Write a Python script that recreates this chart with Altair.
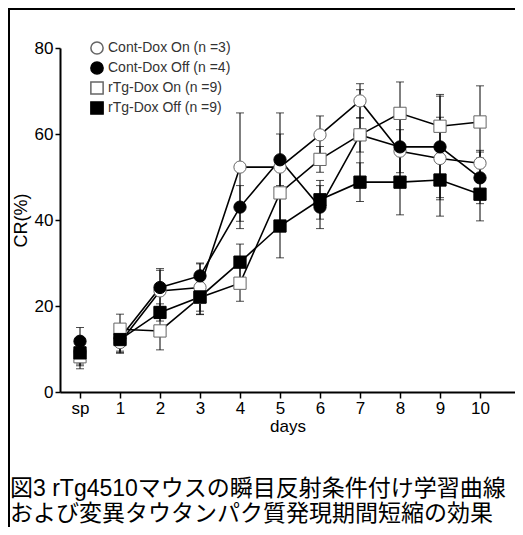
import json
import altair as alt
import pandas as pd

# ---- data ----
day_labels = ["sp", "1", "2", "3", "4", "5", "6", "7", "8", "9", "10"]
day_pos = list(range(11))
series_names = ["Cont-Dox On (n =3)", "Cont-Dox Off (n =4)",
                "rTg-Dox On (n =9)", "rTg-Dox Off (n =9)"]

cont_on = [9.5, 11.5, 23.5, 24.3, 52.3, 52.3, 59.8, 67.7, 56.0, 54.3, 53.2]
cont_on_se = [3.0, 2.5, 4.8, 5.5, 12.6, 12.6, 4.4, 4.0, 5.0, 9.6, 3.0]
cont_off = [11.8, 12.5, 24.3, 27.0, 43.0, 54.0, 43.0, 59.8, 57.0, 57.0, 49.8]
cont_off_se = [3.2, 3.0, 4.4, 3.0, 5.0, 6.0, 5.0, 10.5, 8.0, 11.8, 6.0]
rtg_on = [8.2, 14.6, 14.2, 22.0, 25.3, 46.3, 54.1, 59.8, 64.8, 61.8, 62.8]
rtg_on_se = [2.8, 3.5, 4.4, 4.0, 4.2, 8.0, 3.0, 4.0, 7.3, 7.4, 8.4]
rtg_off = [9.1, 12.2, 18.5, 22.1, 30.2, 38.6, 44.7, 48.8, 48.8, 49.3, 46.0]
rtg_off_se = [3.0, 3.0, 2.0, 4.0, 4.2, 7.4, 4.5, 4.5, 7.6, 8.4, 6.2]

caption = ["図3 rTg4510マウスの瞬目反射条件付け学習曲線",
           "および変異タウタンパク質発現期間短縮の効果"]

rows = []
for name, vals, ses in zip(series_names,
                           [cont_on, cont_off, rtg_on, rtg_off],
                           [cont_on_se, cont_off_se, rtg_on_se, rtg_off_se]):
    for d, v, s in zip(day_pos, vals, ses):
        rows.append(dict(series=name, day=d, cr=v, lo=v - s, hi=v + s))
df = pd.DataFrame(rows)
df_line = df[df.day >= 1]

FONT = "Liberation Sans"
CAP_FONT = "Liberation Sans, Noto Sans CJK JP"
label_expr = json.dumps(day_labels) + "[datum.value]"

x_enc = alt.X("day:Q",
              scale=alt.Scale(domain=[-0.5, 10.875], nice=False, zero=False),
              axis=alt.Axis(values=day_pos, labelExpr=label_expr, title="days",
                            tickSize=6, labelPadding=2, labelFontSize=17,
                            titleFontSize=17, titlePadding=2, grid=False,
                            domainWidth=2, tickWidth=1.5, labelFont=FONT,
                            titleFont=FONT, titleFontWeight="normal",
                            domainColor="black", tickColor="black",
                            labelColor="black", titleColor="black"))
y_axis = alt.Axis(values=[0, 20, 40, 60, 80], title="CR(%)", tickSize=5,
                  labelPadding=2, labelFontSize=17, titleFontSize=18,
                  titlePadding=4, grid=False, domainWidth=2, tickWidth=1.5,
                  labelFont=FONT, titleFont=FONT, titleFontWeight="normal",
                  domainColor="black", tickColor="black", labelColor="black",
                  titleColor="black")
y_scale = alt.Scale(domain=[0, 80], nice=False)

base = alt.Chart(df)

lines = alt.Chart(df_line).mark_line(color="black", strokeWidth=1.6).encode(
    x=x_enc, y=alt.Y("cr:Q", scale=y_scale, axis=y_axis), detail="series:N")

bars = base.mark_rule(color="black", strokeWidth=1).encode(
    x="day:Q", y="lo:Q", y2="hi:Q")
caps_hi = base.mark_tick(color="black", orient="horizontal", size=8,
                         thickness=1).encode(x="day:Q", y="hi:Q")
caps_lo = base.mark_tick(color="black", orient="horizontal", size=8,
                         thickness=1).encode(x="day:Q", y="lo:Q")

legend = alt.Legend(title=None, orient="none", legendX=30, legendY=-7,
                    labelFont=FONT, labelFontSize=14, labelColor="#333",
                    rowPadding=0, labelOffset=4)
points = base.mark_point(filled=True, opacity=1, strokeWidth=1).encode(
    x="day:Q", y="cr:Q",
    shape=alt.Shape("series:N", scale=alt.Scale(
        domain=series_names, range=["circle", "circle", "square", "square"]),
        legend=legend),
    fill=alt.Fill("series:N", scale=alt.Scale(
        domain=series_names, range=["white", "black", "white", "black"]),
        legend=legend),
    stroke=alt.Stroke("series:N", scale=alt.Scale(
        domain=series_names, range=["#666", "black", "#666", "black"]),
        legend=legend),
    size=alt.Size("series:N", scale=alt.Scale(
        domain=series_names, range=[150, 150, 170, 170]), legend=legend),
)

frame_df = pd.DataFrame({"k": [0]})
frame_left = alt.Chart(frame_df).mark_rule(color="black", strokeWidth=2).encode(
    x=alt.value(-51), y=alt.value(-39), y2=alt.value(480))
frame_top = alt.Chart(frame_df).mark_rule(color="black", strokeWidth=2).encode(
    x=alt.value(-52), x2=alt.value(455), y=alt.value(-39))

cap_layers = []
for i, line in enumerate(caption):
    cap_layers.append(
        alt.Chart(frame_df).mark_text(
            text=line, align="left", baseline="middle",
            font=CAP_FONT, fontSize=23, color="black"
        ).encode(x=alt.value(-50), y=alt.value(441 + 25 * i)))

chart = alt.layer(lines, bars, caps_hi, caps_lo, points, frame_left, frame_top,
                  *cap_layers).properties(
    width=455, height=344,
    padding={"left": 52, "top": 40, "right": 0, "bottom": 135},
    autosize="none",
).configure_view(stroke=None).configure_point(opacity=1)

chart.save("out.html", embed_options={"renderer": "svg", "actions": False})
